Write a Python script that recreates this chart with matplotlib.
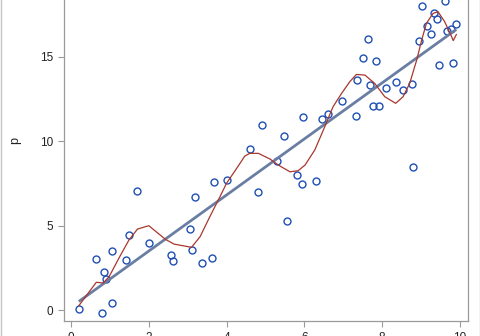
import matplotlib
matplotlib.use("Agg")
import matplotlib.pyplot as plt
import numpy as np
from matplotlib.lines import Line2D

# observed points
x_obs = [0.20, 0.79, 1.05, 0.89, 0.84, 0.65, 1.06, 1.42, 1.50, 1.71, 2.00, 2.56,
         2.62, 3.06, 3.12, 3.18, 3.38, 3.62, 3.68, 4.00, 4.60, 4.82, 4.90, 5.31,
         5.47, 5.56, 5.82, 5.95, 5.97, 6.30, 6.46, 6.60, 6.96, 7.33, 7.35, 7.51,
         7.65, 7.69, 7.76, 7.85, 7.91, 8.11, 8.35, 8.53, 8.78, 8.79, 8.95, 9.03,
         9.15, 9.26, 9.34, 9.40, 9.46, 9.61, 9.68, 9.77, 9.83, 9.91]
p_obs = [0.06, -0.18, 0.43, 1.82, 2.27, 3.00, 3.47, 2.98, 4.44, 7.02, 3.98, 3.27,
         2.92, 4.79, 3.55, 6.69, 2.76, 3.10, 7.57, 7.69, 9.53, 6.98, 10.95, 8.80,
         10.28, 5.25, 7.99, 7.43, 11.40, 7.61, 11.30, 11.60, 12.39, 11.48, 13.61, 14.89,
         16.04, 13.33, 12.09, 14.75, 12.05, 13.16, 13.49, 13.04, 13.39, 8.46, 15.90, 17.97,
         16.80, 16.31, 17.59, 17.24, 14.51, 18.30, 16.51, 16.63, 14.63, 16.92]

# smoother curve
x_smooth = [0.20, 0.65, 0.83, 0.98, 1.23, 1.49, 1.71, 2.00, 2.43, 2.65, 3.10, 3.32,
            3.57, 3.83, 4.00, 4.26, 4.47, 4.60, 4.82, 5.12, 5.33, 5.63, 5.84, 6.02,
            6.27, 6.49, 6.74, 6.96, 7.17, 7.34, 7.56, 7.81, 8.07, 8.35, 8.54, 8.71,
            8.89, 9.02, 9.14, 9.31, 9.44, 9.61, 9.79, 9.83, 9.91]
p_smooth = [0.25, 1.64, 1.60, 1.97, 3.06, 4.14, 4.79, 4.99, 4.18, 3.90, 3.71, 4.34,
            5.52, 6.70, 7.50, 8.38, 9.11, 9.27, 9.27, 8.93, 8.58, 8.18, 8.24, 8.58,
            9.47, 10.65, 12.03, 12.82, 13.51, 13.94, 13.90, 13.41, 12.62, 12.23, 12.62, 13.41,
            14.79, 15.98, 16.96, 17.55, 17.65, 17.06, 16.17, 15.94, 16.30]

x_ticks = [0, 2, 4, 6, 8, 10]
y_ticks = [0, 5, 10, 15]

plt.rcParams['font.family'] = ['Liberation Sans', 'DejaVu Sans']

fig = plt.figure(figsize=(4.8, 3.36), dpi=100)
# axes extends above the picture: the reference is a crop
ax = fig.add_axes([64 / 480, 15 / 336, 404 / 480, 362 / 336])

# linear fit
slope, icpt = np.polyfit(x_obs, p_obs, 1)
xf = np.array([min(x_obs), max(x_obs)])

ax.plot(x_obs, p_obs, 'o', mfc='none', mec='#1f4fb4', mew=1.0, ms=5.0, zorder=3)
ax.plot(xf, slope * xf + icpt, color='#6a7ea3', lw=2.0, zorder=4, solid_capstyle='butt')
ax.plot(x_smooth, p_smooth, color='#a8372d', lw=0.9, zorder=5)

ax.set_xlim(-0.18, 10.21)
ax.set_ylim(-0.65, 20.77)
ax.set_xticks(x_ticks)
ax.set_yticks(y_ticks)
ax.tick_params(colors='#9a9a9a', labelcolor='#222222', labelsize=8.5,
               length=4.5, width=0.8, pad=3.5)
for s in ax.spines.values():
    s.set_color('#9a9a9a')
    s.set_linewidth(0.9)

ax.set_ylabel('p', fontsize=9, color='#222222')
ax.yaxis.set_label_coords(-0.106, 0.5)

# outer border of the original graph
for xb in (0.5 / 480, 479.5 / 480):
    fig.add_artist(Line2D([xb, xb], [0, 1], transform=fig.transFigure,
                          color='#c4c4c4', lw=1.0))

fig.savefig('out.png', dpi=100)
